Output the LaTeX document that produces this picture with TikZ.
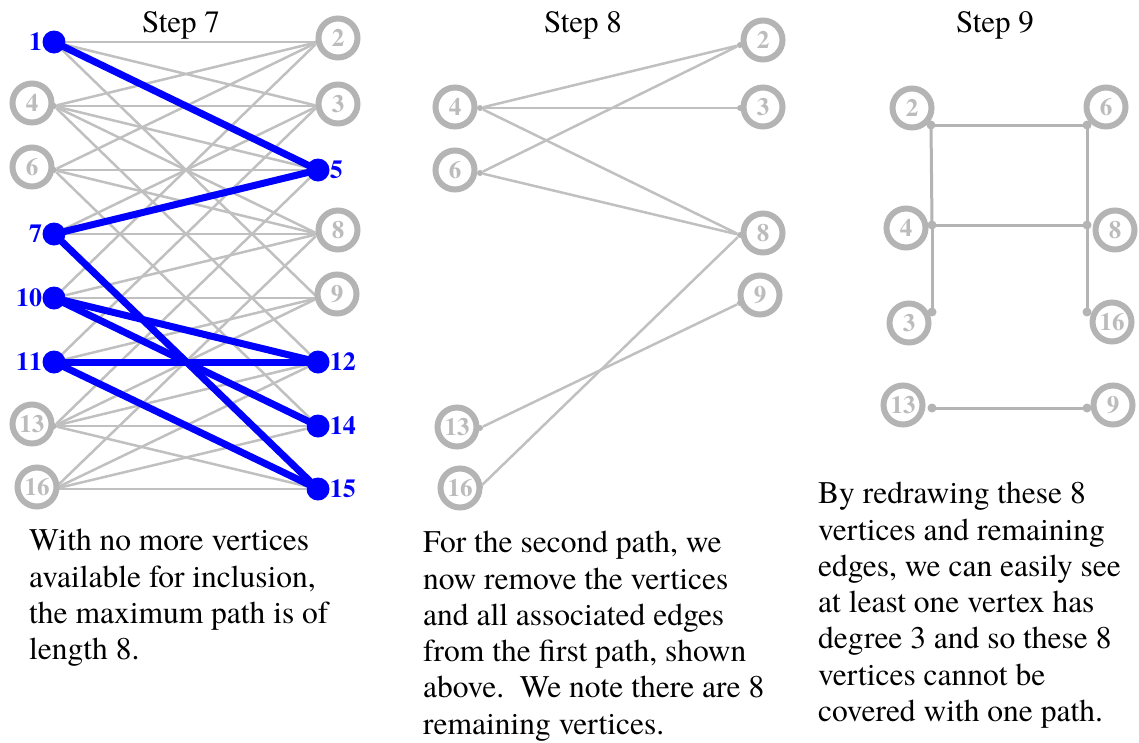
\documentclass[tikz,border=0pt]{standalone}
\usepackage{fontspec}
\setmainfont{texgyretermes}[Extension=.otf,UprightFont=*-regular,BoldFont=*-bold,
  ItalicFont=*-italic,BoldItalicFont=*-bolditalic]
\usetikzlibrary{backgrounds}
\definecolor{edgegray}{RGB}{192,192,192}
\definecolor{ringgray}{RGB}{180,180,180}
\definecolor{labgray}{RGB}{188,188,188}
\begin{document}
\begin{tikzpicture}[x=1pt,y=-1pt,
    gdot/.style={circle,fill=ringgray,inner sep=0pt,minimum size=6pt},
    bdot/.style={circle,fill=blue,inner sep=0pt,minimum size=23pt},
    ring/.style={circle,draw=ringgray,line width=6pt,fill=white,inner sep=0pt,
      minimum size=39pt,text=labgray,font=\fontsize{25}{25}\selectfont\bfseries},
    blab/.style={text=blue,inner sep=0pt,font=\fontsize{26}{26}\selectfont\bfseries},
    gline/.style={draw=edgegray,line width=2.5pt},
    bline/.style={draw=blue,line width=7pt},
    title/.style={anchor=base,font=\fontsize{31}{31}\selectfont},
    txt/.style={anchor=north west,align=left,inner sep=0pt,
      font=\fontsize{31.5}{36.3}\selectfont}]
  \useasboundingbox (0,0) rectangle (1139,742);

  % step 7
  \path
    (54,42) node[bdot,label={[blab]left:1}] (a1){}
    (54,106) node[gdot] (a4){}
    (54,170) node[gdot] (a6){}
    (54,234) node[bdot,label={[blab]left:7}] (a7){}
    (54,298) node[bdot,label={[blab]left:10}] (a10){}
    (54,362) node[bdot,label={[blab]left:11}] (a11){}
    (54,426) node[gdot] (a13){}
    (54,489) node[gdot] (a16){}
    (318,42) node[gdot] (a2){}
    (318,106) node[gdot] (a3){}
    (318,170) node[bdot,label={[blab]right:5}] (a5){}
    (318,234) node[gdot] (a8){}
    (318,298) node[gdot] (a9){}
    (318,362) node[bdot,label={[blab]right:12}] (a12){}
    (318,426) node[bdot,label={[blab]right:14}] (a14){}
    (318,489) node[bdot,label={[blab]right:15}] (a15){};
  \path
    (32,103) node[ring] (a4r){4}
    (32,167) node[ring] (a6r){6}
    (32,424) node[ring] (a13r){13}
    (37,487) node[ring] (a16r){16}
    (338,38) node[ring] (a2r){2}
    (338,104) node[ring] (a3r){3}
    (338,230) node[ring] (a8r){8}
    (337,294) node[ring] (a9r){9};
  \begin{pgfonlayer}{background}
    \begin{scope}[gline]
      \draw (a1) to (a2);
      \draw (a1) to (a3);
      \draw (a1) to (a9);
      \draw (a4) to (a2);
      \draw (a4) to (a3);
      \draw (a4) to (a5);
      \draw (a4) to (a8);
      \draw (a4) to (a12);
      \draw (a6) to (a2);
      \draw (a6) to (a5);
      \draw (a6) to (a8);
      \draw (a6) to (a14);
      \draw (a7) to (a3);
      \draw (a7) to (a8);
      \draw (a10) to (a2);
      \draw (a10) to (a8);
      \draw (a10) to (a9);
      \draw (a11) to (a3);
      \draw (a11) to (a9);
      \draw (a13) to (a5);
      \draw (a13) to (a9);
      \draw (a13) to (a12);
      \draw (a13) to (a14);
      \draw (a13) to (a15);
      \draw (a16) to (a8);
      \draw (a16) to (a12);
      \draw (a16) to (a14);
      \draw (a16) to (a15);
    \end{scope}
    \begin{scope}[bline]
      \draw (a1.center) to (a5.center);
      \draw (a5.center) to (a7.center);
      \draw (a7.center) to (a15.center);
      \draw (a15.center) to (a11.center);
      \draw (a11.center) to (a12.center);
      \draw (a12.center) to (a10.center);
      \draw (a10.center) to (a14.center);
    \end{scope}
  \end{pgfonlayer}
  \node[title] (s7) at (181,32) {Step 7};
  \node[txt] (t7) at (29,529) {With no more vertices\\available for inclusion,\\the maximum path is of\\length 8.};

  % step 8
  \path
    (480,108) node[gdot] (b4){}
    (480,173) node[gdot] (b6){}
    (480,428) node[gdot] (b13){}
    (480,487) node[gdot] (b16){}
    (740,45) node[gdot] (b2){}
    (740,108) node[gdot] (b3){}
    (740,235) node[gdot] (b8){}
    (740,303) node[gdot] (b9){};
  \path
    (455,107) node[ring] (b4r){4}
    (455,170) node[ring] (b6r){6}
    (457,427) node[ring] (b13r){13}
    (460,488) node[ring] (b16r){16}
    (763,40) node[ring] (b2r){2}
    (763,107) node[ring] (b3r){3}
    (763,233) node[ring] (b8r){8}
    (760,295) node[ring] (b9r){9};
  \begin{pgfonlayer}{background}
    \begin{scope}[gline]
      \draw (b4) to (b2);
      \draw (b4) to (b3);
      \draw (b4) to (b8);
      \draw (b6) to (b2);
      \draw (b6) to (b8);
      \draw (b13) to (b9);
      \draw (b16) to (b8);
    \end{scope}
  \end{pgfonlayer}
  \node[title] (s8) at (583,32) {Step 8};
  \node[txt] (t8) at (423,531) {For the second path, we\\now remove the vertices\\and all associated edges\\from the first path, shown\\above.\ \ We note there are 8\\remaining vertices.};

  % step 9
  \path
    (931,125) node[gdot,minimum size=9pt] (c2){}
    (1087,125) node[gdot,minimum size=9pt] (c6){}
    (932,225) node[gdot,minimum size=9pt] (c4){}
    (1087,225) node[gdot,minimum size=9pt] (c8){}
    (932,312) node[gdot,minimum size=9pt] (c3){}
    (1087,312) node[gdot,minimum size=9pt] (c16){}
    (932,408) node[gdot,minimum size=9pt] (c13){}
    (1087,408) node[gdot,minimum size=9pt] (c9){};
  \path
    (912,108) node[ring] (c2r){2}
    (1106,107) node[ring] (c6r){6}
    (906,228) node[ring] (c4r){4}
    (1115,230) node[ring] (c8r){8}
    (909,323) node[ring] (c3r){3}
    (1112,322) node[ring] (c16r){16}
    (903,405) node[ring] (c13r){13}
    (1113,405) node[ring] (c9r){9};
  \begin{pgfonlayer}{background}
    \begin{scope}[gline,line width=3pt,draw=ringgray]
      \draw (c2.center) to (c6.center);
      \draw (c2.center) to (c4.center);
      \draw (c4.center) to (c3.center);
      \draw (c6.center) to (c8.center);
      \draw (c8.center) to (c16.center);
      \draw (c4.center) to (c8.center);
      \draw (c13.center) to (c9.center);
    \end{scope}
  \end{pgfonlayer}
  \node[title] (s9) at (995,32) {Step 9};
  \node[txt] (t9) at (818,482) {By redrawing these 8\\vertices and remaining\\edges, we can easily see\\at least one vertex has\\degree 3 and so these 8\\vertices cannot be\\covered with one path.};
\end{tikzpicture}
\end{document}
